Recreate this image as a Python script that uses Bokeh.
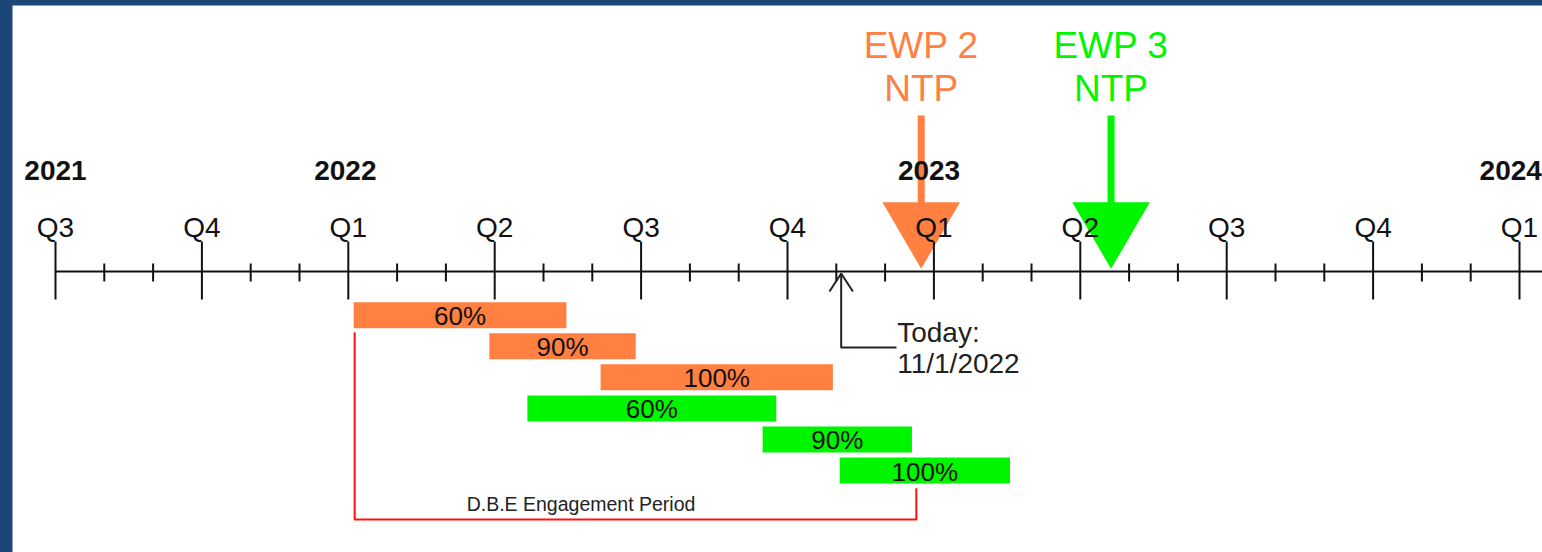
import numpy as np
from bokeh.plotting import figure
from bokeh.models import Range1d, ColumnDataSource, GlobalInlineStyleSheet
from bokeh.core.properties import value
from bokeh.embed import file_html
from bokeh.resources import INLINE

# ---------------- data (x = months counted from 1 Jul 2021, i.e. Q3 2021 = 0) -------------
quarter_month = [0, 3, 6, 9, 12, 15, 18, 21, 24, 27, 30]
quarter_labels = ["Q3", "Q4", "Q1", "Q2", "Q3", "Q4", "Q1", "Q2", "Q3", "Q4", "Q1"]
year_month = [0, 5.94, 17.9, 29.82]
year_labels = ["2021", "2022", "2023", "2024"]
minor_month = [m for m in range(0, 31) if m % 3 != 0]

bar_labels = ["60%", "90%", "100%", "60%", "90%", "100%"]
bar_group = ["EWP 2", "EWP 2", "EWP 2", "EWP 3", "EWP 3", "EWP 3"]
bar_start = [6.11, 8.89, 11.17, 9.67, 14.49, 16.07]
bar_end = [10.47, 11.89, 15.93, 14.77, 17.55, 19.56]
bar_row = [0, 1, 2, 3, 4, 5]

ntp_names = ["EWP 2", "EWP 3"]
ntp_month = [17.74, 21.63]

today_month = 16.1
today_lines = ["Today:", "11/1/2022"]

dbe_start = 6.13
dbe_end = 17.64
dbe_label = "D.B.E Engagement Period"

# ---------------- style / layout ----------------
ORANGE = "#ff8040"
GREEN = "#00f500"
BLUE_BG = "#1b4677"
INK = "#111111"
FONT = value("Liberation Sans")
group_color = {"EWP 2": ORANGE, "EWP 3": GREEN}

W, H = 1542, 552
LEFT, TOP = 12, 5
X0_PX, PX_PER_MONTH = 55.0, 48.8

AXIS_Y = 271
MAJOR_Y0, MAJOR_Y1 = 241, 299
MINOR_Y0, MINOR_Y1 = 263, 281
ROW0_Y, ROW_STEP, BAR_H = 314.7, 31.06, 26

def px_to_month(px):
    return (px - X0_PX) / PX_PER_MONTH

p = figure(width=W, height=H, output_backend="svg", toolbar_location=None,
           x_range=Range1d(px_to_month(LEFT), px_to_month(W)),
           y_range=Range1d(H, TOP),
           min_border_left=LEFT, min_border_top=TOP, min_border_right=0, min_border_bottom=0,
           border_fill_color=BLUE_BG, background_fill_color="white",
           outline_line_color=None)
p.axis.visible = False
p.grid.visible = False
p.stylesheets = [GlobalInlineStyleSheet(css="html,body{margin:0;padding:0;background:%s;}" % BLUE_BG)]

# ---------------- NTP arrows ----------------
HEAD_HALF = 38.8 / PX_PER_MONTH
ntp_colors = [group_color[n] for n in ntp_names]
p.segment(x0=ntp_month, y0=[115] * 2, x1=ntp_month, y1=[205] * 2,
          line_color=ntp_colors, line_width=7)
p.patches(xs=[[m - HEAD_HALF, m + HEAD_HALF, m] for m in ntp_month],
          ys=[[201.7, 201.7, 268.3] for _ in ntp_month],
          fill_color=ntp_colors, line_color=None)
p.text(x=ntp_month, y=[44.5] * 2, text=ntp_names, text_color=ntp_colors,
       text_font=FONT, text_font_size="37px", text_align="center", text_baseline="middle")
p.text(x=ntp_month, y=[88] * 2, text=["NTP"] * 2, text_color=ntp_colors,
       text_font=FONT, text_font_size="37px", text_align="center", text_baseline="middle")

# ---------------- timeline ----------------
p.segment(x0=[0], y0=[AXIS_Y], x1=[px_to_month(W) + 1], y1=[AXIS_Y], line_color=INK, line_width=2)
p.segment(x0=quarter_month, y0=[MAJOR_Y0] * len(quarter_month), x1=quarter_month,
          y1=[MAJOR_Y1] * len(quarter_month), line_color=INK, line_width=2)
p.segment(x0=minor_month, y0=[MINOR_Y0] * len(minor_month), x1=minor_month,
          y1=[MINOR_Y1] * len(minor_month), line_color=INK, line_width=2)
p.text(x=quarter_month, y=[227] * len(quarter_month), text=quarter_labels, text_color=INK,
       text_font=FONT, text_font_size="28px", text_align="center", text_baseline="middle")
p.text(x=year_month, y=[170] * len(year_month), text=year_labels, text_color=INK,
       text_font=FONT, text_font_size="28px", text_font_style="bold",
       text_align="center", text_baseline="middle")

# ---------------- today marker ----------------
AH = 0.24
p.line(x=[today_month - AH, today_month, today_month + AH], y=[291, 273, 291],
       line_color="#222222", line_width=2)
p.line(x=[today_month, today_month, today_month + 55.3 / PX_PER_MONTH], y=[273, 347, 347],
       line_color="#222222", line_width=2)
p.text(x=[today_month + 56 / PX_PER_MONTH] * 2, y=[331.7, 363.3], text=today_lines,
       text_color="#222222", text_font=FONT, text_font_size="28px",
       text_align="left", text_baseline="middle")

# ---------------- bars ----------------
bar_y = [ROW0_Y + r * ROW_STEP for r in bar_row]
src = ColumnDataSource(dict(
    left=bar_start, right=bar_end,
    top=[y - BAR_H / 2 for y in bar_y], bottom=[y + BAR_H / 2 for y in bar_y],
    xc=[(a + b) / 2 for a, b in zip(bar_start, bar_end)], yc=[y + 1 for y in bar_y],
    label=bar_labels, color=[group_color[g] for g in bar_group]))
p.quad(left="left", right="right", top="top", bottom="bottom", source=src,
       fill_color="color", line_color=None)
p.text(x="xc", y="yc", text="label", source=src, text_color=INK, text_font=FONT,
       text_font_size="26px", text_align="center", text_baseline="middle")

# ---------------- DBE bracket ----------------
p.line(x=[dbe_start, dbe_start, dbe_end, dbe_end], y=[331.7, 519, 519, 487.7],
       line_color="#ff1010", line_width=2)
p.text(x=[dbe_start + 112 / PX_PER_MONTH], y=[503], text=[dbe_label], text_color="#222222",
       text_font=FONT, text_font_size="19.5px", text_align="left", text_baseline="middle")

open("out.html", "w").write(file_html(p, INLINE))
